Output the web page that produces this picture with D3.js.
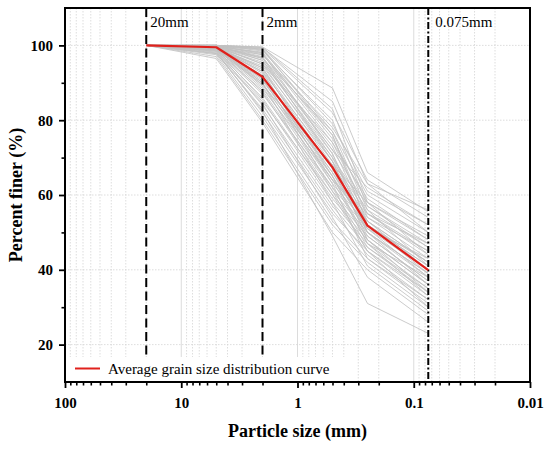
<!DOCTYPE html>
<html>
<head>
<meta charset="utf-8">
<script src="https://cdn.jsdelivr.net/npm/d3@7"></script>
<style>
  html, body { margin: 0; padding: 0; background: #fff; }
  svg { display: block; font-family: "Liberation Serif", "Times New Roman", serif; }
  svg text { font-family: "Liberation Serif", "Times New Roman", serif; }
</style>
</head>
<body>
<svg id="chart" width="550" height="449"></svg>
<script>
// ---------- data ----------
const sieveSizes = [20, 5, 2, 0.5, 0.25, 0.075];
const averageCurve = [100, 99.5, 91.6, 67.4, 51.8, 39.9];
// individual samples: percent finer at 5, 2, 0.5, 0.25, 0.075 mm (100% at 20 mm)
const sampleCurves = [
  [100, 99.6, 88.6, 66, 55.5], [100, 99.4, 85, 63, 56], [100, 99.2, 82, 64, 54],
  [100, 99, 79, 61, 52], [99.8, 98.8, 77, 60, 50], [100, 98.5, 80, 57, 46],
  [99.7, 98.2, 75, 58, 48], [100, 97.8, 74, 55, 45], [99.5, 97.5, 76, 54, 43],
  [99.8, 97, 72, 57, 47], [100, 96.5, 73, 53, 42], [99.6, 96, 70, 56, 46],
  [99.4, 95.5, 71, 52, 41], [99.9, 95, 69, 55, 44], [99.2, 94.5, 70, 51, 40],
  [99.7, 94, 68, 54, 45], [99.5, 93.5, 67, 53, 42], [99.3, 93, 69, 50, 38],
  [99.8, 92.5, 66, 52, 41], [99, 92, 65, 51, 43], [99.6, 91.5, 67, 49, 37],
  [99.4, 91, 64, 53, 40], [99.1, 90.5, 66, 50, 39], [99.7, 90, 63, 52, 42],
  [98.8, 89.5, 65, 48, 36], [99.5, 89, 62, 51, 38], [99.2, 88.5, 64, 47, 35],
  [98.6, 88, 61, 50, 39], [99.3, 87.5, 60, 49, 37], [98.9, 87, 62, 46, 34],
  [98.5, 86, 59, 48, 36], [99, 85.5, 58, 47, 38], [98.2, 85, 60, 45, 33],
  [98.7, 84, 57, 46, 35], [97.8, 83, 56, 44, 32], [98.4, 82, 55, 45, 34],
  [97.5, 81, 53, 43, 31], [97, 80, 52, 42, 30], [96.5, 79.3, 50, 40, 28],
  [98, 82.5, 49, 31, 23], [97.8, 84.5, 54, 38, 26], [99, 90, 58, 41, 29],
  [99.5, 93, 63, 43, 32], [100, 96, 72, 62, 52], [100, 97.5, 78, 63, 50],
  [99.6, 95, 74, 59, 48], [99.8, 98, 71, 50, 36], [99.9, 99, 76, 52, 39],
  [99.3, 94, 65, 47, 33], [99.1, 92, 61, 45, 30], [99.6, 96.8, 69, 48, 34],
  [98.9, 91, 64, 55, 47], [99.4, 89.5, 68, 58, 49], [100, 99.5, 83, 58, 44],
  [99.7, 96.5, 77, 56, 41]
];
const refSizes = [20, 2, 0.075];
const refLabels = ["20mm", "2mm", "0.075mm"];
const xTickValues = [100, 10, 1, 0.1, 0.01];
const xTickLabels = ["100", "10", "1", "0.1", "0.01"];
const yTickValues = [20, 40, 60, 80, 100];
const yMinorValues = [30, 50, 70, 90];
const legendLabel = "Average grain size distribution curve";

// ---------- layout ----------
const svg = d3.select("#chart");
const L = 65, R = 530, T = 8, B = 382;
const x = d3.scaleLog().domain([100, 0.01]).range([L, R]);
const y = d3.scaleLinear().domain([10, 110]).range([B, T]);
const serif = '"Liberation Serif", "Times New Roman", serif';

// minor x values (2..9 in each decade)
const xMinor = [];
for (let e = -2; e < 2; e++) for (let m = 2; m <= 9; m++) xMinor.push(m * Math.pow(10, e));

// ---------- grid ----------
const grid = svg.append("g");
grid.selectAll(".gmin").data(xMinor).enter().append("line")
  .attr("x1", d => x(d)).attr("x2", d => x(d)).attr("y1", T).attr("y2", B)
  .attr("stroke", "#d4d4d4").attr("stroke-width", 0.8).attr("stroke-dasharray", "1.5,1.5");
grid.selectAll(".gmaj").data(xTickValues).enter().append("line")
  .attr("x1", d => x(d)).attr("x2", d => x(d)).attr("y1", T).attr("y2", B)
  .attr("stroke", "#dcdcdc").attr("stroke-width", 1);
grid.selectAll(".gy").data(yTickValues).enter().append("line")
  .attr("x1", L).attr("x2", R).attr("y1", d => y(d)).attr("y2", d => y(d))
  .attr("stroke", "#d4d4d4").attr("stroke-width", 0.8).attr("stroke-dasharray", "1.5,1.5");

// ---------- curves ----------
const line = d3.line().x(d => x(d[0])).y(d => y(d[1]));
const curves = svg.append("g");
sampleCurves.forEach(row => {
  const vals = [100].concat(row);
  curves.append("path")
    .attr("d", line(sieveSizes.map((s, i) => [s, vals[i]])))
    .attr("fill", "none").attr("stroke", "#c2c2c2").attr("stroke-width", 0.85);
});

// ---------- reference lines ----------
const refs = svg.append("g");
refSizes.forEach((s, i) => {
  refs.append("line")
    .attr("x1", x(s)).attr("x2", x(s)).attr("y1", T).attr("y2", B)
    .attr("stroke", "#000").attr("stroke-width", 2)
    .attr("stroke-dasharray", i < 2 ? "9,4.5" : "7,2.5,2,2.5");
  refs.append("text")
    .attr("x", x(s) + (i < 2 ? 4 : 7)).attr("y", 27)
    .attr("font-family", serif).attr("font-size", 15).attr("fill", "#000")
    .text(refLabels[i]);
});

// ---------- average curve ----------
svg.append("path")
  .attr("d", line(sieveSizes.map((s, i) => [s, averageCurve[i]])))
  .attr("fill", "none").attr("stroke", "#e0211c").attr("stroke-width", 2.2)
  .attr("stroke-linejoin", "round");

// ---------- legend ----------
const lg = svg.append("g");
lg.append("rect").attr("x", L + 1).attr("y", 357).attr("width", 288).attr("height", B - 358)
  .attr("fill", "#fff");
lg.append("line").attr("x1", 75).attr("x2", 100).attr("y1", 368.5).attr("y2", 368.5)
  .attr("stroke", "#e0211c").attr("stroke-width", 2);
lg.append("text").attr("x", 108).attr("y", 374)
  .attr("font-family", serif).attr("font-size", 15).attr("fill", "#000")
  .text(legendLabel);

// ---------- axes ----------
const xAxis = d3.axisBottom(x).tickValues(xTickValues)
  .tickFormat((d, i) => xTickLabels[i]).tickSize(6).tickPadding(9);
const gx = svg.append("g").attr("transform", `translate(0,${B})`).call(xAxis)
  .attr("font-family", serif).attr("font-size", 15);
gx.select(".domain").remove();
gx.selectAll(".tick line").attr("stroke-width", 1.8);
gx.selectAll("text").attr("font-family", serif).attr("font-size", 15).attr("font-weight", "bold");
const gxm = svg.append("g").attr("transform", `translate(0,${B})`)
  .call(d3.axisBottom(x).tickValues(xMinor).tickFormat("").tickSize(3.5));
gxm.select(".domain").remove();
gxm.selectAll(".tick line").attr("stroke-width", 1.6);

const yAxis = d3.axisLeft(y).tickValues(yTickValues).tickSize(6).tickPadding(6);
const gy = svg.append("g").attr("transform", `translate(${L},0)`).call(yAxis)
  .attr("font-family", serif).attr("font-size", 15);
gy.select(".domain").remove();
gy.selectAll(".tick line").attr("stroke-width", 1.8);
gy.selectAll("text").attr("font-family", serif).attr("font-size", 15).attr("font-weight", "bold");
const gym = svg.append("g").attr("transform", `translate(${L},0)`)
  .call(d3.axisLeft(y).tickValues(yMinorValues).tickFormat("").tickSize(3.5));
gym.select(".domain").remove();
gym.selectAll(".tick line").attr("stroke-width", 1.6);

// frame
svg.append("rect").attr("x", L).attr("y", T).attr("width", R - L).attr("height", B - T)
  .attr("fill", "none").attr("stroke", "#000").attr("stroke-width", 2);

// titles
svg.append("text").attr("x", (L + R) / 2).attr("y", 437).attr("text-anchor", "middle")
  .attr("font-family", serif).attr("font-size", 18).attr("font-weight", "bold")
  .text("Particle size (mm)");
svg.append("text").attr("transform", `translate(22,${(T + B) / 2}) rotate(-90)`)
  .attr("text-anchor", "middle")
  .attr("font-family", serif).attr("font-size", 18).attr("font-weight", "bold")
  .text("Percent finer (%)");
</script>
</body>
</html>
